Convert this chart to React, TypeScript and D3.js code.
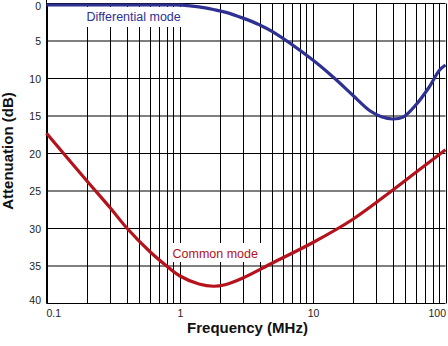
import React from "react";
import * as d3 from "d3";

const W = 448;
const H = 346;

// Frequency (MHz) / attenuation (dB)
const diffFreq = [0.1, 0.4, 0.8, 1.05, 1.4, 1.8, 2.2, 3, 4, 5, 10, 14.5, 20, 27, 33, 40, 48, 60, 75, 90, 100];
const diffDb = [0.2, 0.2, 0.2, 0.22, 0.45, 0.8, 1.15, 1.95, 2.85, 3.75, 7.5, 9.9, 12.2, 14.3, 15.1, 15.4, 15.15, 13.5, 11.2, 8.9, 8.2];

const commonFreq = [0.1, 0.2, 0.3, 0.4, 0.6, 0.8, 1.0, 1.4, 1.8, 2.2, 3, 5, 10, 20, 40, 60, 100];
const commonDb = [17.3, 23.6, 27.2, 29.9, 33.1, 35.0, 36.3, 37.4, 37.7, 37.5, 36.6, 34.6, 31.9, 28.8, 24.9, 22.5, 19.5];

const yTicks = [0, 5, 10, 15, 20, 25, 30, 35, 40];
const xTickValues = [0.1, 1, 10, 100];
const xTickLabels = ["0.1", "1", "10", "100"];
const xGrid = [
  0.1, 0.2, 0.3, 0.4, 0.5, 0.6, 0.7, 0.8, 0.9,
  1, 2, 3, 4, 5, 6, 7, 8, 9,
  10, 20, 30, 40, 50, 60, 70, 80, 90, 100,
];

const FONT = "'Liberation Sans', Arial, Helvetica, sans-serif";
const BLUE = "#2e3192";
const RED = "#b5121b";

export default function App() {
  const x = d3.scaleLog().domain([0.1, 100]).range([46.5, 445.5]);
  const y = d3.scaleLinear().domain([0, 40]).range([3.5, 303.5]);

  const line = d3
    .line<[number, number]>()
    .x((d) => x(d[0]))
    .y((d) => y(d[1]))
    .curve(d3.curveCatmullRom.alpha(0.5));

  const diffPath = line(diffFreq.map((f, i) => [f, diffDb[i]]) as [number, number][]) || "";
  const commonPath = line(commonFreq.map((f, i) => [f, commonDb[i]]) as [number, number][]) || "";

  return (
    <svg width={W} height={H} style={{ position: "absolute", left: 0, top: 0, background: "#fff" }}>
      <rect x={0} y={0} width={W} height={H} fill="#fff" />
      {/* grid */}
      {xGrid.map((f) => (
        <line key={"xg" + f} x1={Math.round(x(f)) + 0.5} x2={Math.round(x(f)) + 0.5} y1={y(0)} y2={y(40)} stroke="#000" strokeWidth={1} />
      ))}
      {yTicks.map((t) => (
        <line key={"yg" + t} x1={x(0.1)} x2={x(100)} y1={y(t)} y2={y(t)} stroke="#000" strokeWidth={1} />
      ))}
      <line x1={46.5} x2={46.5} y1={0} y2={303.5} stroke="#000" strokeWidth={1} />

      {/* label boxes */}
      <rect x={83} y={7} width={101} height={20} fill="#fff" />
      <rect x={168} y={243} width={96} height={19} fill="#fff" />

      {/* y tick labels */}
      {yTicks.map((t) => (
        <text
          key={"yl" + t}
          x={41}
          y={y(t) + (t === 0 ? 6 : t === 40 ? 0 : 4)}
          textAnchor="end"
          fontFamily={FONT}
          fontSize={10.5}
          fill="#222"
        >
          {t}
        </text>
      ))}
      {/* x tick labels */}
      {xTickValues.map((v, i) => (
        <text
          key={"xl" + v}
          x={i === 0 ? x(v) : i === xTickValues.length - 1 ? 446 : x(v) + 1}
          y={317}
          textAnchor={i === 0 ? "start" : i === xTickValues.length - 1 ? "end" : "middle"}
          fontFamily={FONT}
          fontSize={10.5}
          fill="#222"
        >
          {xTickLabels[i]}
        </text>
      ))}

      {/* axis titles */}
      <text x={247.5} y={333} textAnchor="middle" fontFamily={FONT} fontSize={15} fontWeight="bold" fill="#111">
        Frequency (MHz)
      </text>
      <text
        transform="translate(12.5,151) rotate(-90)"
        textAnchor="middle"
        fontFamily={FONT}
        fontSize={15}
        fontWeight="bold"
        fill="#111"
      >
        Attenuation (dB)
      </text>

      {/* series labels */}
      <text x={86.5} y={21} fontFamily={FONT} fontSize={12.5} fill={BLUE}>
        Differential mode
      </text>
      <text x={172.5} y={258} fontFamily={FONT} fontSize={12.5} fill={RED}>
        Common mode
      </text>

      {/* curves */}
      <path d={commonPath} fill="none" stroke={RED} strokeWidth={3.2} />
      <path d={diffPath} fill="none" stroke={BLUE} strokeWidth={3.2} />
    </svg>
  );
}
